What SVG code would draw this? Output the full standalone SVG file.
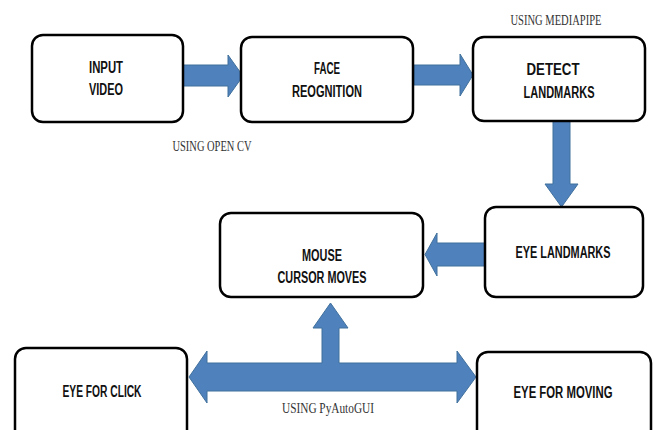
<svg xmlns="http://www.w3.org/2000/svg" width="654" height="430" viewBox="0 0 654 430">
  <style>
    .box { fill: #ffffff; stroke: #000000; stroke-width: 2.5; }
    .lbl { font-family: "Liberation Sans", Arial, sans-serif; font-weight: bold; font-size: 16px; fill: #111111; text-anchor: middle; }
    .note { font-family: "Liberation Serif", "Times New Roman", serif; font-size: 14px; fill: #333333; text-anchor: middle; }
    .arrow { fill: #4f81bd; stroke: #41719c; stroke-width: 1; stroke-linejoin: miter; }
  </style>
  <rect width="654" height="430" fill="#ffffff"/>

  <!-- block arrows between the stages -->
  <g id="connectors">
    <polygon class="arrow" points="183,65 228,65 228,55 243,76 228,97 228,86 183,86"/>
    <polygon class="arrow" points="414,65 460,65 460,54 473,75 460,96 460,85 414,85"/>
    <polygon class="arrow" points="553,121 570,121 570,184 578,184 561.5,207 545,184 553,184"/>
    <polygon class="arrow" points="485,243 437,243 437,233 425,254.5 437,276 437,266 485,266"/>
    <polygon class="arrow" points="189,377 207,351 207,363 322,363 322,328 313,328 330.5,303 348,328 339,328 339,363 457,363 457,351 476,377 457,403 457,391 207,391 207,403"/>
  </g>

  <g id="input-video">
    <rect class="box" x="32" y="35" width="151" height="87" rx="11"/>
    <text class="lbl" x="106" y="73" textLength="34" lengthAdjust="spacingAndGlyphs">INPUT</text>
    <text class="lbl" x="106" y="95" textLength="34" lengthAdjust="spacingAndGlyphs">VIDEO</text>
  </g>

  <g id="face-recognition">
    <rect class="box" x="241" y="37" width="172" height="85" rx="11"/>
    <text class="lbl" x="327" y="74" textLength="26" lengthAdjust="spacingAndGlyphs">FACE</text>
    <text class="lbl" x="327" y="97" textLength="70" lengthAdjust="spacingAndGlyphs">REOGNITION</text>
  </g>

  <g id="detect-landmarks">
    <rect class="box" x="473" y="37" width="172" height="84" rx="11"/>
    <text class="lbl" x="553" y="75" textLength="53" lengthAdjust="spacingAndGlyphs">DETECT</text>
    <text class="lbl" x="559" y="98" textLength="71" lengthAdjust="spacingAndGlyphs">LANDMARKS</text>
  </g>

  <g id="eye-landmarks">
    <rect class="box" x="485" y="207" width="158" height="90" rx="11"/>
    <text class="lbl" x="563" y="258" textLength="95" lengthAdjust="spacingAndGlyphs">EYE LANDMARKS</text>
  </g>

  <g id="mouse-cursor">
    <rect class="box" x="220" y="213" width="203" height="84" rx="11"/>
    <text class="lbl" x="322" y="261" textLength="40" lengthAdjust="spacingAndGlyphs">MOUSE</text>
    <text class="lbl" x="322" y="283" textLength="89" lengthAdjust="spacingAndGlyphs">CURSOR MOVES</text>
  </g>

  <g id="eye-click">
    <rect class="box" x="15" y="348" width="172" height="95" rx="11"/>
    <text class="lbl" x="102" y="397" textLength="79" lengthAdjust="spacingAndGlyphs">EYE FOR CLICK</text>
  </g>

  <g id="eye-moving">
    <rect class="box" x="477" y="352" width="174" height="95" rx="11"/>
    <text class="lbl" x="563" y="398" textLength="99" lengthAdjust="spacingAndGlyphs">EYE FOR MOVING</text>
  </g>

  <!-- library notes -->
  <g id="notes">
    <text class="note" x="556" y="25" textLength="91" lengthAdjust="spacingAndGlyphs">USING MEDIAPIPE</text>
    <text class="note" x="212" y="151" textLength="79" lengthAdjust="spacingAndGlyphs">USING OPEN CV</text>
    <text class="note" x="328" y="413" textLength="92" lengthAdjust="spacingAndGlyphs">USING PyAutoGUI</text>
  </g>
</svg>
